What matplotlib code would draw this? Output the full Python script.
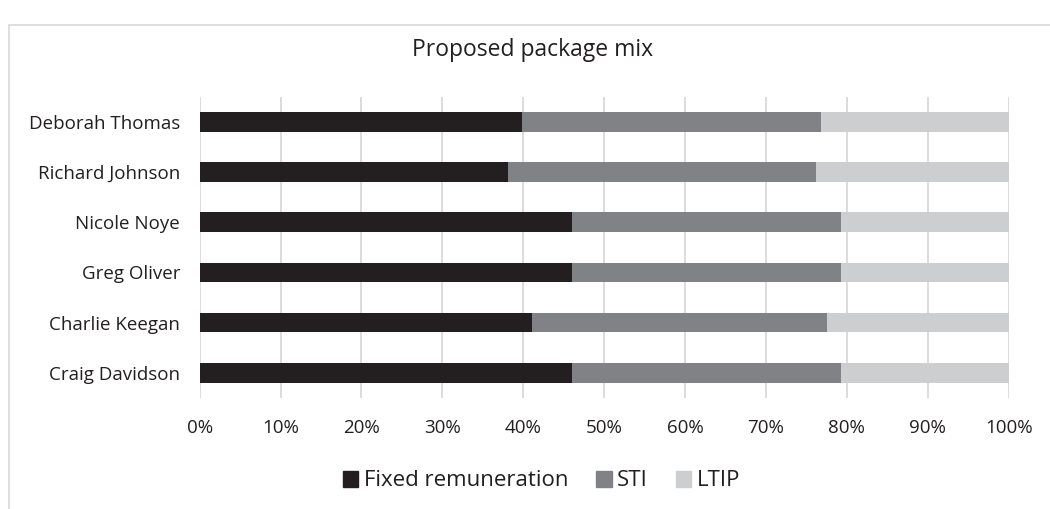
import matplotlib
matplotlib.use("Agg")
import matplotlib.pyplot as plt
from matplotlib.patches import Rectangle, Patch

plt.rcParams['font.family'] = ['Open Sans', 'DejaVu Sans']

# data (percent of total package)
names = ["Deborah Thomas", "Richard Johnson", "Nicole Noye",
         "Greg Oliver", "Charlie Keegan", "Craig Davidson"]
fixed = [39.8, 38.1, 46.0, 46.0, 41.1, 46.0]
sti = [37.0, 38.1, 33.3, 33.3, 36.4, 33.3]
ltip = [23.2, 23.8, 20.7, 20.7, 22.5, 20.7]
series_names = ["Fixed remuneration", "STI", "LTIP"]
colors = ["#231F20", "#818285", "#CDCED0"]

fig = plt.figure(figsize=(10.5, 5.09), dpi=100)
ax = fig.add_axes([0.1901, 0.2181, 0.7706, 0.5919])

# outer chart frame (runs off the right and bottom edge)
fig.patches.append(Rectangle((9 / 1050, -0.1), 1.2, 1 - 25 / 509 + 0.1,
                             transform=fig.transFigure, fill=False,
                             edgecolor="#D9D9D9", linewidth=1.2))

y = list(range(len(names)))
left = [0] * len(names)
for vals, name, c in zip([fixed, sti, ltip], series_names, colors):
    ax.barh(y, vals, left=left, height=0.39, color=c, label=name, zorder=3)
    left = [a + b for a, b in zip(left, vals)]

ax.set_xlim(0, 100)
ax.set_ylim(len(names) - 0.5, -0.5)
ax.set_yticks(y)
ax.set_yticklabels(names)
ax.set_xticks(range(0, 101, 10))
ax.set_xticklabels(["%d%%" % v for v in range(0, 101, 10)])
ax.tick_params(axis="y", length=0, pad=14, labelsize=13.5, colors="#231F20")
ax.tick_params(axis="x", length=0, pad=15, labelsize=13.5, colors="#231F20")
ax.grid(axis="x", color="#D9D9D9", linewidth=1.3, zorder=0)
for s in ax.spines.values():
    s.set_visible(False)

fig.text(0.507, 1 - 50 / 509, "Proposed package mix", ha="center", va="center",
         fontsize=16.5, color="#231F20")

handles = [Patch(color=c) for c in colors]
fig.legend(handles, series_names, loc="center", bbox_to_anchor=(0.5157, 1 - 481 / 509),
           ncol=3, frameon=False, fontsize=16, handlelength=0.7, handleheight=0.7,
           handletextpad=0.25, columnspacing=1.25, labelcolor="#231F20",
           borderpad=0, borderaxespad=0)

fig.savefig("out.png", dpi=100)
